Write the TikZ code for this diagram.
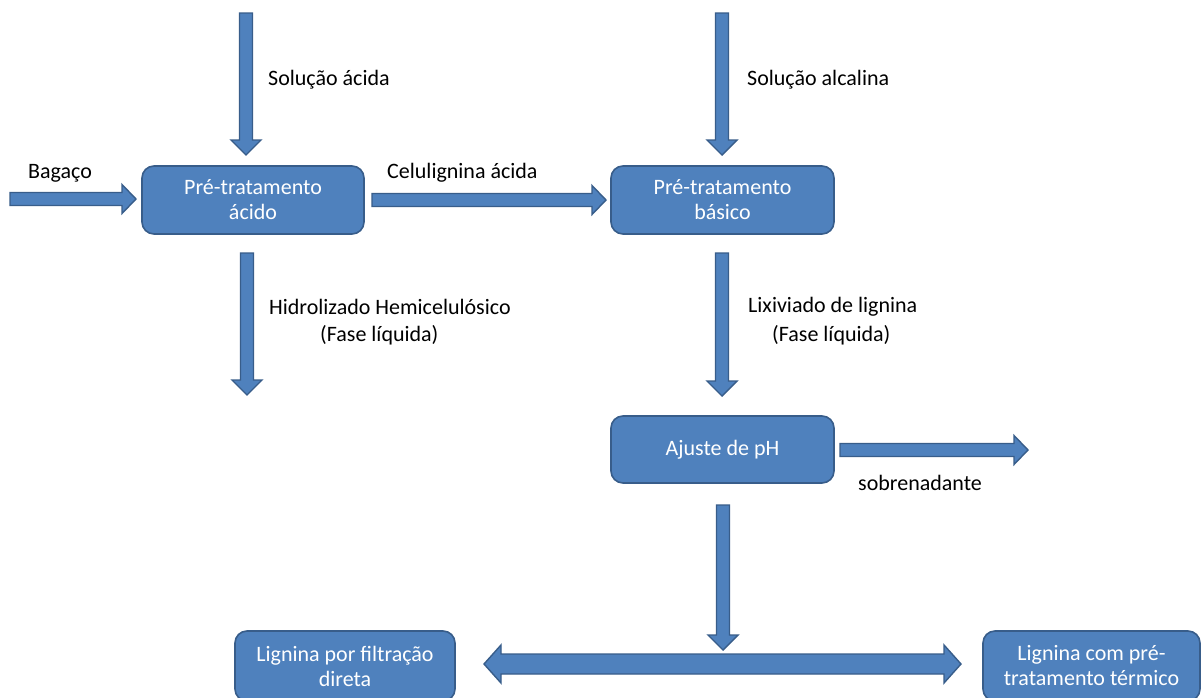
\documentclass[tikz,border=0pt]{standalone}
\usepackage{fontspec}
\setmainfont{Carlito}
\usetikzlibrary{calc}
\definecolor{boxfill}{HTML}{4F81BD}
\definecolor{boxline}{HTML}{385D8A}
\tikzset{
  procbox/.style={draw=boxline, line width=1.6pt, fill=boxfill, rounded corners=12pt,
    text=white, align=center, inner sep=0pt, font=\fontsize{22}{25}\selectfont},
  lbl/.style={anchor=west, inner sep=0pt, text=black, font=\fontsize{22}{28}\selectfont},
  blockarr/.style={draw=boxline, line width=1.4pt, fill=boxfill, line join=miter},
}
% down arrow: shaft half 6.5, head half 15, head length 15
\newcommand\arrdown[2]{%
  \path[blockarr] let \p1=(#1), \p2=(#2) in
    (\x1-6.5pt,\y1) -- (\x1-6.5pt,\y2+15pt) -- (\x1-15pt,\y2+15pt) -- (\x1,\y2)
    -- (\x1+15pt,\y2+15pt) -- (\x1+6.5pt,\y2+15pt) -- (\x1+6.5pt,\y1) -- cycle;}
\newcommand\arrright[2]{%
  \path[blockarr] let \p1=(#1), \p2=(#2) in
    (\x1,\y1+6.5pt) -- (\x2-14pt,\y1+6.5pt) -- (\x2-14pt,\y1+14.5pt) -- (\x2,\y1)
    -- (\x2-14pt,\y1-14.5pt) -- (\x2-14pt,\y1-6.5pt) -- (\x1,\y1-6.5pt) -- cycle;}
\newcommand\arrboth[2]{%
  \path[blockarr] let \p1=(#1), \p2=(#2) in
    (\x1,\y1) -- (\x1+17pt,\y1+19pt) -- (\x1+17pt,\y1+10pt) -- (\x2-17pt,\y1+10pt)
    -- (\x2-17pt,\y1+19pt) -- (\x2,\y1) -- (\x2-17pt,\y1-19pt) -- (\x2-17pt,\y1-10pt)
    -- (\x1+17pt,\y1-10pt) -- (\x1+17pt,\y1-19pt) -- cycle;}
\begin{document}
\begin{tikzpicture}[x=1pt,y=-1pt]
\useasboundingbox (0,0) rectangle (1203,697);
\clip (0,0) rectangle (1203,697);
\fill[white] (0,0) rectangle (1203,697);

% boxes
\node[procbox, minimum width=222pt, minimum height=68pt] (pta) at (253,200) {Pré-tratamento\\ácido};
\node[procbox, minimum width=223pt, minimum height=68pt] (ptb) at (722.5,200) {Pré-tratamento\\básico};
\node[procbox, minimum width=223pt, minimum height=67pt] (ajp) at (722.5,449.5) {Ajuste de pH};
\node[procbox, minimum width=220pt, minimum height=70pt] (lfd) at (345,666) {Lignina por filtração\\direta};
\node[procbox, minimum width=217pt, minimum height=70pt] (lpt) at (1091.5,666) {Lignina com pré-\\tratamento térmico};

% arrow end coordinates
\coordinate (sa0) at (246,13);
\coordinate (sa1) at (246,155);
\coordinate (sb0) at (722,13);
\coordinate (sb1) at (722,155);
\coordinate (bg0) at (10,199);
\coordinate (bg1) at (136,199);
\coordinate (cl0) at (372,200);
\coordinate (cl1) at (606,200);
\coordinate (hh0) at (247,253);
\coordinate (hh1) at (247,395);
\coordinate (lx0) at (722,253);
\coordinate (lx1) at (722,396);
\coordinate (sn0) at (840,450);
\coordinate (sn1) at (1028,450);
\coordinate (aj0) at (723,505);
\coordinate (aj1) at (723,650);
\coordinate (db0) at (484,664);
\coordinate (db1) at (961,664);

\arrdown{sa0}{sa1}
\arrdown{sb0}{sb1}
\arrright{bg0}{bg1}
\arrright{cl0}{cl1}
\arrdown{hh0}{hh1}
\arrdown{lx0}{lx1}
\arrright{sn0}{sn1}
\arrboth{db0}{db1}
\arrdown{aj0}{aj1}

% labels
\node[lbl] (tsa) at (268,80) {Solução ácida};
\node[lbl] (tsb) at (747,80) {Solução alcalina};
\node[lbl] (tbg) at (28,173) {Bagaço};
\node[lbl] (tcl) at (387,173) {Celulignina ácida};
\node[lbl] (thh) at (269,307) {Hidrolizado Hemicelulósico};
\node[lbl] (thf) at (320,335) {(Fase líquida)};
\node[lbl] (tlx) at (748,307) {Lixiviado de lignina};
\node[lbl] (tlf) at (772,335) {(Fase líquida)};
\node[lbl] (tsn) at (858,483) {sobrenadante};
\end{tikzpicture}
\end{document}
